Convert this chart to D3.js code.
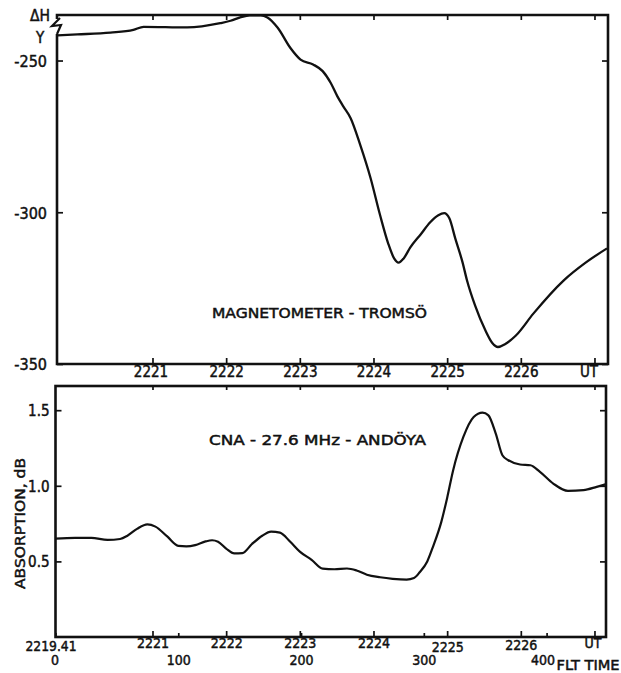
<!DOCTYPE html>
<html>
<head>
<meta charset="utf-8">
<script src="https://cdn.jsdelivr.net/npm/d3@7"></script>
<style>
  html, body { margin: 0; padding: 0; background: #fff; }
  svg { display: block; }
  text { font-family: "DejaVu Sans Condensed", "DejaVu Sans", sans-serif; font-stretch: condensed; fill: #111; stroke: #111; stroke-width: 0.45px; }
</style>
</head>
<body>
<svg id="chart" width="621" height="673"></svg>
<script>
// ---- DATA (time in minutes after 22:00 UT) ----
const magTime = [19.71, 19.98, 20.43, 20.74, 20.88, 21.47, 21.92, 22.06, 22.19, 22.32, 22.47, 22.56, 22.70, 22.87, 23.01,
  23.18, 23.31, 23.42, 23.51, 23.59, 23.69, 23.82, 23.96, 24.09, 24.20, 24.28, 24.34, 24.41, 24.50, 24.64, 24.77,
  24.88, 24.96, 25.03, 25.11, 25.21, 25.27, 25.38, 25.52, 25.61, 25.69, 25.79, 25.93, 26.17, 26.58, 26.88, 27.17];
const magValue = [-241.7, -241.4, -240.8, -239.9, -238.9, -239.1, -237.7, -236.9, -235.8, -235.1, -235.1, -235.8, -239.2, -245.8, -249.7,
  -251.3, -253.5, -257.4, -261.8, -265.1, -269.0, -277.8, -288.7, -301.0, -310.3, -315.2, -316.6, -315.2, -311.6, -307.3, -303.3,
  -301.0, -300.3, -302.0, -308.6, -316.6, -322.5, -330.8, -339.0, -343.0, -344.4, -343.4, -340.7, -333.4, -322.5, -316.6, -311.9];

const cnaTime = [19.68, 19.95, 20.17, 20.39, 20.56, 20.66, 20.79, 20.93, 21.04, 21.20, 21.35, 21.46, 21.58, 21.72, 21.81, 21.89,
  22.00, 22.11, 22.22, 22.35, 22.49, 22.61, 22.73, 22.87, 23.00, 23.16, 23.31, 23.47, 23.64, 23.77, 23.91, 24.09,
  24.26, 24.45, 24.55, 24.63, 24.73, 24.81, 24.92, 25.00, 25.08, 25.22, 25.36, 25.48, 25.56, 25.66, 25.75, 25.83,
  25.99, 26.13, 26.26, 26.44, 26.64, 26.85, 27.03, 27.15];
const cnaValue = [0.650, 0.655, 0.655, 0.642, 0.648, 0.670, 0.715, 0.745, 0.730, 0.665, 0.603, 0.600, 0.608, 0.632, 0.640, 0.630,
  0.585, 0.553, 0.555, 0.615, 0.670, 0.697, 0.690, 0.630, 0.565, 0.510, 0.452, 0.448, 0.453, 0.440, 0.412, 0.395,
  0.385, 0.380, 0.390, 0.430, 0.500, 0.600, 0.760, 0.920, 1.100, 1.323, 1.455, 1.484, 1.466, 1.345, 1.202, 1.169,
  1.141, 1.136, 1.092, 1.015, 0.966, 0.971, 0.993, 1.010];

const utTicks = [21, 22, 23, 24, 25, 26, 27];
const utLabels = ["2221", "2222", "2223", "2224", "2225", "2226", "UT"];
const fltTicks = [0, 100, 200, 300, 400];
const fltLabels = ["0", "100", "200", "300", "400"];
const magTicks = [-250, -300, -350];
const cnaTicks = [0.5, 1.0, 1.5];
const startLabel = "2219.41";
const startTime = 19 + 41 / 60;   // 22:19:41 UT = flight time 0
const endTime = 27.17;

// ---- LAYOUT ----
const svg = d3.select("#chart");
const x = d3.scaleLinear().domain([startTime, endTime]).range([55.5, 607]);
const xFlt = d3.scaleLinear().domain([0, 400]).range([x(startTime), x(startTime + 400 / 60)]);

const topP = { y0: 15, y1: 364 };
const botP = { y0: 386, y1: 637 };
const yMag = d3.scaleLinear().domain([-350, -235]).range([topP.y1, topP.y0]);
const yCna = d3.scaleLinear().domain([0, 1.66]).range([botP.y1, botP.y0]);

const FS = 15;

function clean(g) { g.select(".domain").remove(); g.selectAll("line").attr("stroke", "#111").attr("stroke-width", 1.7); }

// ---- TOP PANEL ----
const gTop = svg.append("g");
gTop.append("g").attr("transform", `translate(0,${topP.y1})`)
  .call(d3.axisBottom(x).tickValues(utTicks).tickSizeInner(-6).tickSizeOuter(0).tickPadding(4)
        .tickFormat((d, i) => utLabels[i]))
  .call(clean)
  .call(g => g.selectAll("text").attr("font-size", FS).attr("dy", "0.6em")
        .attr("dx", (d, i) => i === 6 ? -6 : (i === 0 ? -2 : 0)));
gTop.append("g").attr("transform", `translate(0,${topP.y0})`)
  .call(d3.axisTop(x).tickValues(utTicks).tickSizeInner(-5).tickSizeOuter(0).tickFormat(""))
  .call(clean);
gTop.append("g").attr("transform", `translate(${x.range()[0] + 1.5},0)`)
  .call(d3.axisLeft(yMag).tickValues(magTicks).tickSizeInner(-6).tickSizeOuter(0).tickPadding(10)
        .tickFormat(d => "-" + Math.abs(d)))
  .call(clean)
  .call(g => g.selectAll("text").attr("font-size", 16).attr("dy", "0.36em"));
gTop.append("g").attr("transform", `translate(${x.range()[1] + 1},0)`)
  .call(d3.axisRight(yMag).tickValues(magTicks).tickSizeInner(-6).tickSizeOuter(0).tickFormat(""))
  .call(clean);
const tl = x.range()[0] + 1.5, tr = x.range()[1] + 1;
gTop.append("path")
  .attr("d", `M${tl},${topP.y0 + 4}L${tl},${topP.y0}L${tr},${topP.y0}L${tr},${topP.y1}L${tl},${topP.y1}L${tl},${topP.y0 + 19}`)
  .attr("fill", "none").attr("stroke", "#111").attr("stroke-width", 2.6);
gTop.append("path")
  .attr("d", `M${tl + 3},${topP.y0 + 3}L${tl - 5},${topP.y0 + 11}L${tl + 4},${topP.y0 + 10}L${tl},${topP.y0 + 19}`)
  .attr("fill", "none").attr("stroke", "#111").attr("stroke-width", 2.2);
gTop.append("text").attr("x", 40).attr("y", 21).attr("text-anchor", "middle").attr("font-size", 15)
  .attr("textLength", 20).attr("lengthAdjust", "spacingAndGlyphs").text("ΔH");
gTop.append("text").attr("x", 40).attr("y", 43).attr("text-anchor", "middle").attr("font-size", 15).text("Y");
gTop.append("text").attr("x", 212).attr("y", 318).attr("font-size", 14)
  .attr("textLength", 215).attr("lengthAdjust", "spacingAndGlyphs").text("MAGNETOMETER - TROMSÖ");
gTop.append("path")
  .datum(magTime.map((t, i) => [t, magValue[i]]))
  .attr("d", d3.line().x(d => x(d[0])).y(d => yMag(d[1])).curve(d3.curveMonotoneX))
  .attr("fill", "none").attr("stroke", "#111").attr("stroke-width", 2.3);

// ---- BOTTOM PANEL ----
const gBot = svg.append("g");
const bl = x.range()[0], br = x.range()[1] - 1;
gBot.append("g").attr("transform", `translate(0,${botP.y1})`)
  .call(d3.axisBottom(x).tickValues(utTicks).tickSizeInner(-6).tickSizeOuter(0).tickPadding(4)
        .tickFormat((d, i) => utLabels[i]))
  .call(clean)
  .call(g => g.selectAll("text").attr("font-size", 14).attr("dy", "0.6em")
        .attr("dx", (d, i) => i === 6 ? -2 : 0)
        .attr("y", (d, i) => i === 4 ? 7 : (i === 5 ? 5 : 3)));
gBot.append("g").attr("transform", `translate(0,${botP.y1})`)
  .call(d3.axisBottom(xFlt).tickValues(fltTicks).tickSizeInner(-4).tickSizeOuter(0).tickPadding(20)
        .tickFormat((d, i) => fltLabels[i]))
  .call(clean)
  .call(g => g.selectAll("text").attr("font-size", 14).attr("dy", "0.6em")
        .attr("dx", (d, i) => i === 4 ? -4 : (i === 0 ? -1 : 0)));
gBot.append("g").attr("transform", `translate(0,${botP.y0})`)
  .call(d3.axisTop(x).tickValues(utTicks).tickSizeInner(-4).tickSizeOuter(0).tickFormat(""))
  .call(clean);
gBot.append("g").attr("transform", `translate(${bl},0)`)
  .call(d3.axisLeft(yCna).tickValues(cnaTicks).tickSizeInner(-6).tickSizeOuter(0).tickPadding(6)
        .tickFormat(d3.format(".1f")))
  .call(clean)
  .call(g => g.selectAll("text").attr("font-size", 15).attr("dy", "0.36em"));
gBot.append("g").attr("transform", `translate(${br},0)`)
  .call(d3.axisRight(yCna).tickValues(cnaTicks).tickSizeInner(-6).tickSizeOuter(0).tickFormat(""))
  .call(clean);
gBot.append("rect").attr("x", bl).attr("y", botP.y0).attr("width", br - bl).attr("height", botP.y1 - botP.y0)
  .attr("fill", "none").attr("stroke", "#111").attr("stroke-width", 2.6);
gBot.append("text").attr("x", 51).attr("y", botP.y1 + 13.5).attr("text-anchor", "middle").attr("font-size", 14)
  .attr("textLength", 51).attr("lengthAdjust", "spacingAndGlyphs").text(startLabel);
gBot.append("text").attr("x", xFlt(400) + 10).attr("y", botP.y1 + 32.5).attr("font-size", 14)
  .attr("textLength", 63).attr("lengthAdjust", "spacingAndGlyphs").text("FLT TIME");
gBot.append("text").attr("transform", "translate(25,523.5) rotate(-90)").attr("text-anchor", "middle")
  .attr("font-size", 14).attr("textLength", 131).attr("lengthAdjust", "spacingAndGlyphs").text("ABSORPTION, dB");
gBot.append("text").attr("x", 209).attr("y", 445).attr("font-size", 14)
  .attr("textLength", 217).attr("lengthAdjust", "spacingAndGlyphs").text("CNA - 27.6 MHz - ANDÖYA");
gBot.append("path")
  .datum(cnaTime.map((t, i) => [t, cnaValue[i]]))
  .attr("d", d3.line().x(d => x(d[0])).y(d => yCna(d[1])).curve(d3.curveMonotoneX))
  .attr("fill", "none").attr("stroke", "#111").attr("stroke-width", 2.2);
</script>
</body>
</html>
